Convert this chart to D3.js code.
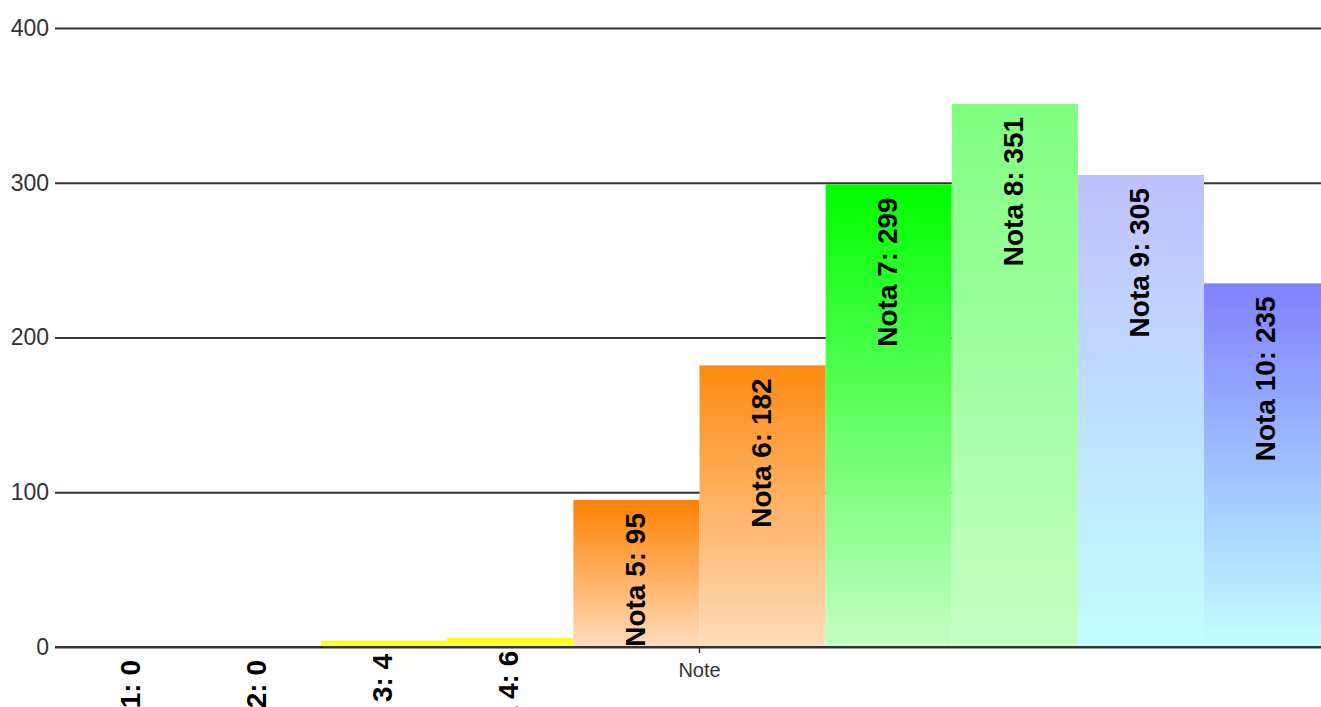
<!DOCTYPE html>
<html>
<head>
<meta charset="utf-8">
<script src="https://cdn.jsdelivr.net/npm/d3@7"></script>
<style>
  html, body { margin: 0; padding: 0; background: #fff; }
  svg { display: block; }
</style>
</head>
<body>
<svg id="chart" width="1321" height="707"></svg>
<script>
const categories = ["Nota 1", "Nota 2", "Nota 3", "Nota 4", "Nota 5", "Nota 6", "Nota 7", "Nota 8", "Nota 9", "Nota 10"];
const values = [0, 0, 4, 6, 95, 182, 299, 351, 305, 235];
const topColors = ["#ff0000", "#ff4000", "#ffff00", "#ffff00", "#ff8000", "#ff8a10", "#00ff00", "#80ff80", "#c0c0ff", "#8080ff"];
const bottomColors = ["#ffc0c0", "#ffd0c0", "#ffff60", "#ffff60", "#ffdcbc", "#ffdcbc", "#c4ffc4", "#c4ffc4", "#c0ffff", "#c0ffff"];
const groupLabels = ["Note"];
const yTicks = [0, 100, 200, 300, 400];

const svg = d3.select("#chart");
const margin = { left: 58, top: 28, bottom: 647 };
const FONT = "Arial, 'Liberation Sans', sans-serif";

const y = d3.scaleLinear().domain([0, 400]).range([margin.bottom, margin.top]);
const x0 = d3.scaleBand().domain(groupLabels).range([margin.left, 1341]).paddingOuter(0.0086).paddingInner(0);
const x1 = d3.scaleBand().domain(categories).range([0, x0.bandwidth()]).padding(0);

// gradients
const defs = svg.append("defs");
categories.forEach((c, i) => {
  const g = defs.append("linearGradient").attr("id", "grad" + i)
    .attr("x1", 0).attr("y1", 0).attr("x2", 0).attr("y2", 1);
  g.append("stop").attr("offset", "0%").attr("stop-color", topColors[i]);
  g.append("stop").attr("offset", "100%").attr("stop-color", bottomColors[i]);
});

// y grid + axis
const yAxis = d3.axisLeft(y).tickValues(yTicks).tickSize(0).tickPadding(6);
const yG = svg.append("g").attr("transform", `translate(${margin.left - 3},0)`).call(yAxis);
yG.select(".domain").remove();
yG.selectAll(".tick line").attr("stroke", "#333").attr("stroke-width", 1.8).attr("x1", 0).attr("x2", 1321);
yG.selectAll(".tick text").attr("font-family", FONT)
  .attr("font-size", 23).attr("fill", "#333");

// bars
const group = svg.append("g").attr("transform", `translate(${x0("Note")},0)`);
group.selectAll("rect").data(categories).join("rect")
  .attr("x", d => x1(d))
  .attr("width", x1.bandwidth())
  .attr("y", (d, i) => y(values[i]))
  .attr("height", (d, i) => y(0) - y(values[i]))
  .attr("fill", (d, i) => `url(#grad${i})`);

// x axis
const xAxis = d3.axisBottom(x0).tickSize(6).tickPadding(10);
const xG = svg.append("g").attr("transform", `translate(0,${y(0)})`).call(xAxis);
xG.select(".domain").remove();
xG.selectAll(".tick line").attr("stroke", "#333").attr("stroke-width", 1.4);
xG.selectAll(".tick text").attr("font-family", FONT)
  .attr("font-size", 20).attr("fill", "#333");

// baseline
svg.append("line").attr("x1", margin.left - 3).attr("x2", 1321)
  .attr("y1", y(0)).attr("y2", y(0)).attr("stroke", "#333").attr("stroke-width", 2);

// labels
group.selectAll("text.lbl").data(categories).join("text")
  .attr("class", "lbl")
  .attr("transform", (d, i) => `translate(${x1(d) + x1.bandwidth() / 2 - 2},${y(values[i]) + 13}) rotate(-90)`)
  .attr("text-anchor", "end")
  .attr("dy", "0.36em")
  .attr("font-family", FONT)
  .attr("font-weight", "bold")
  .attr("font-size", 28)
  .attr("fill", "#000")
  .text((d, i) => `${d}: ${values[i]}`);
</script>
</body>
</html>
